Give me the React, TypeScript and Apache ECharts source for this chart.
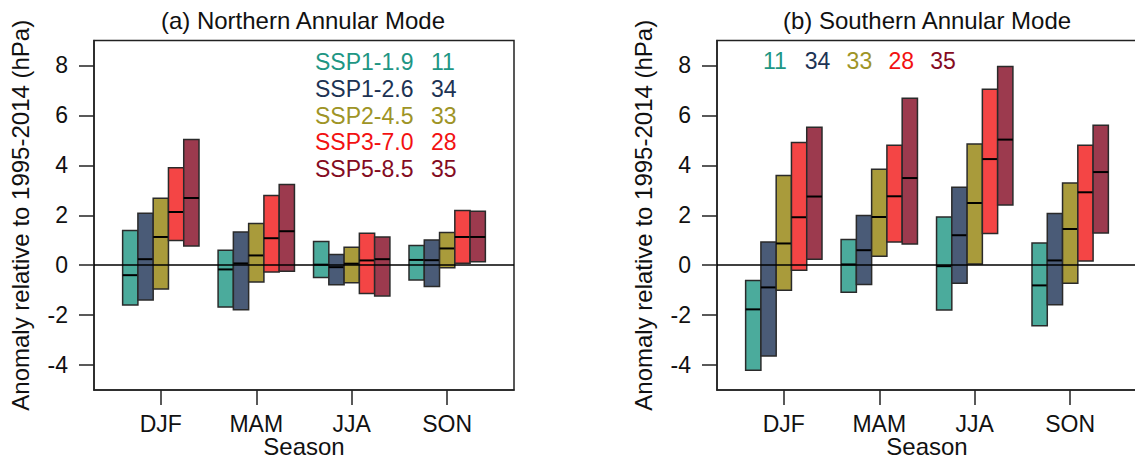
import React, { useEffect, useRef } from "react";
import * as echarts from "echarts";

// ---- data ----
const seasons = ["DJF", "MAM", "JJA", "SON"];
const scenarios = ["SSP1-1.9", "SSP1-2.6", "SSP2-4.5", "SSP3-7.0", "SSP5-8.5"];
const modelCounts = [11, 34, 33, 28, 35];
const yTicks = [-4, -2, 0, 2, 4, 6, 8];

// [low, median, high] per season (DJF, MAM, JJA, SON)
const namSSP119 = [[-1.6, -0.4, 1.39], [-1.68, -0.17, 0.6], [-0.49, 0.02, 0.95], [-0.59, 0.21, 0.79]];
const namSSP126 = [[-1.39, 0.24, 2.08], [-1.79, 0.07, 1.33], [-0.78, -0.08, 0.43], [-0.85, 0.2, 1.01]];
const namSSP245 = [[-0.95, 1.13, 2.68], [-0.67, 0.39, 1.67], [-0.7, 0.06, 0.72], [-0.1, 0.67, 1.31]];
const namSSP370 = [[0.99, 2.13, 3.9], [-0.27, 1.08, 2.79], [-1.13, 0.19, 1.28], [0.08, 1.13, 2.19]];
const namSSP585 = [[0.77, 2.69, 5.03], [-0.24, 1.36, 3.23], [-1.23, 0.24, 1.13], [0.14, 1.13, 2.16]];

const samSSP119 = [[-4.21, -1.77, -0.61], [-1.08, 0.03, 1.03], [-1.8, -0.04, 1.93], [-2.43, -0.81, 0.89]];
const samSSP126 = [[-3.64, -0.89, 0.93], [-0.77, 0.6, 1.99], [-0.72, 1.2, 3.12], [-1.59, 0.19, 2.07]];
const samSSP245 = [[-1.0, 0.87, 3.59], [0.36, 1.93, 3.84], [0.05, 2.49, 4.85], [-0.72, 1.45, 3.29]];
const samSSP370 = [[-0.2, 1.92, 4.91], [0.93, 2.76, 4.8], [1.27, 4.25, 7.05], [0.17, 2.92, 4.8]];
const samSSP585 = [[0.24, 2.75, 5.53], [0.85, 3.49, 6.69], [2.41, 5.03, 7.96], [1.29, 3.73, 5.61]];

const namData = [namSSP119, namSSP126, namSSP245, namSSP370, namSSP585];
const samData = [samSSP119, samSSP126, samSSP245, samSSP370, samSSP585];

// ---- styles ----
const fillColors = ["#4bab9c", "#4a5b77", "#a99b3b", "#f44545", "#9c3a4e"];
const textColors = ["#1e9684", "#1d3354", "#9e9426", "#f21111", "#840b22"];
const FONT = "Liberation Sans, Arial, Helvetica, sans-serif";
const BW = 0.16;

function makeSeries(data: number[][][], gi: number) {
  return data.map((scen, k) => ({
    type: "custom",
    name: scenarios[k],
    xAxisIndex: gi,
    yAxisIndex: gi,
    clip: false,
    data: scen.map((v, si) => [si + 1, v[0], v[1], v[2], k]),
    encode: { x: 0, y: [1, 3] },
    renderItem: (params: any, api: any) => {
      const x = api.value(0);
      const lo = api.value(1);
      const med = api.value(2);
      const hi = api.value(3);
      const kk = api.value(4);
      const off = (kk - 2) * BW;
      const p1 = api.coord([x + off - BW / 2, hi]);
      const p2 = api.coord([x + off + BW / 2, lo]);
      const m1 = api.coord([x + off - BW / 2, med]);
      const m2 = api.coord([x + off + BW / 2, med]);
      return {
        type: "group",
        children: [
          {
            type: "rect",
            shape: { x: p1[0], y: p1[1], width: p2[0] - p1[0], height: p2[1] - p1[1] },
            style: { fill: fillColors[kk], stroke: "#2a2a2a", lineWidth: 1.5 },
          },
          {
            type: "line",
            shape: { x1: m1[0], y1: m1[1], x2: m2[0], y2: m2[1] },
            style: { stroke: "#000", lineWidth: 2 },
          },
        ],
      };
    },
    ...(k === 4
      ? {
          markLine: {
            silent: true,
            symbol: "none",
            label: { show: false },
            lineStyle: { color: "#000", width: 1.5, type: "solid" },
            data: [{ yAxis: 0 }],
            z: 10,
          },
        }
      : {}),
  }));
}

function xAxis(gi: number) {
  return {
    type: "value",
    gridIndex: gi,
    min: 0.3,
    max: 4.7,
    axisLine: { show: true, onZero: false, lineStyle: { color: "#222", width: 1.5 } },
    axisTick: { show: true, length: 15, customValues: [1, 2, 3, 4], lineStyle: { color: "#222", width: 1.5 } },
    axisLabel: {
      customValues: [1, 2, 3, 4],
      formatter: (v: number) => seasons[Math.round(v) - 1] || "",
      fontFamily: FONT,
      fontSize: 23,
      color: "#111",
      margin: 22,
    },
    splitLine: { show: false },
  };
}

function yAxis(gi: number) {
  return {
    type: "value",
    gridIndex: gi,
    min: -5,
    max: 9,
    name: "Anomaly relative to 1995-2014 (hPa)",
    nameLocation: "middle",
    nameGap: 62,
    nameTextStyle: { fontFamily: FONT, fontSize: 24, color: "#111" },
    axisLine: { show: true, onZero: false, lineStyle: { color: "#222", width: 1.5 } },
    axisTick: { show: true, length: 15, customValues: yTicks, lineStyle: { color: "#222", width: 1.5 } },
    axisLabel: {
      customValues: yTicks,
      fontFamily: FONT,
      fontSize: 23,
      color: "#111",
      margin: 26,
    },
    splitLine: { show: false },
  };
}

export default function App() {
  const ref = useRef<HTMLDivElement>(null);
  useEffect(() => {
    if (!ref.current) return;
    const chart = echarts.init(ref.current, null, { renderer: "svg" });
    const graphics: any[] = [];
    const addText = (text: string, x: number, y: number, size: number, fill: string, align: string) =>
      graphics.push({
        type: "text",
        x,
        y,
        z: 20,
        style: { text, fontFamily: FONT, fontSize: size, fill, align, verticalAlign: "middle" },
      });
    addText("(a) Northern Annular Mode", 303, 20, 24, "#111", "center");
    addText("(b) Southern Annular Mode", 927, 20, 24, "#111", "center");
    addText("Season", 304, 446, 24, "#111", "center");
    addText("Season", 927, 446, 24, "#111", "center");
    scenarios.forEach((s, i) => {
      addText(s, 315, 62 + i * 26.8, 23, textColors[i], "left");
      addText(String(modelCounts[i]), 431, 62 + i * 26.8, 23, textColors[i], "left");
      addText(String(modelCounts[i]), 763 + i * 41.8, 61, 23, textColors[i], "left");
    });
    chart.setOption({
      animation: false,
      backgroundColor: "#fff",
      grid: [
        { left: 94, top: 40.5, width: 420, height: 349.5, outerBoundsMode: "none", containLabel: false, show: true, borderColor: "#222", borderWidth: 1.5, backgroundColor: "transparent" },
        { left: 717, top: 40.5, width: 420, height: 349.5, outerBoundsMode: "none", containLabel: false, show: true, borderColor: "#222", borderWidth: 1.5, backgroundColor: "transparent" },
      ],
      xAxis: [xAxis(0), xAxis(1)],
      yAxis: [yAxis(0), yAxis(1)],
      series: [...makeSeries(namData, 0), ...makeSeries(samData, 1)],
      graphic: graphics,
    });
    return () => chart.dispose();
  }, []);
  return <div ref={ref} style={{ position: "fixed", left: 0, top: 0, width: 1135, height: 462 }} />;
}
